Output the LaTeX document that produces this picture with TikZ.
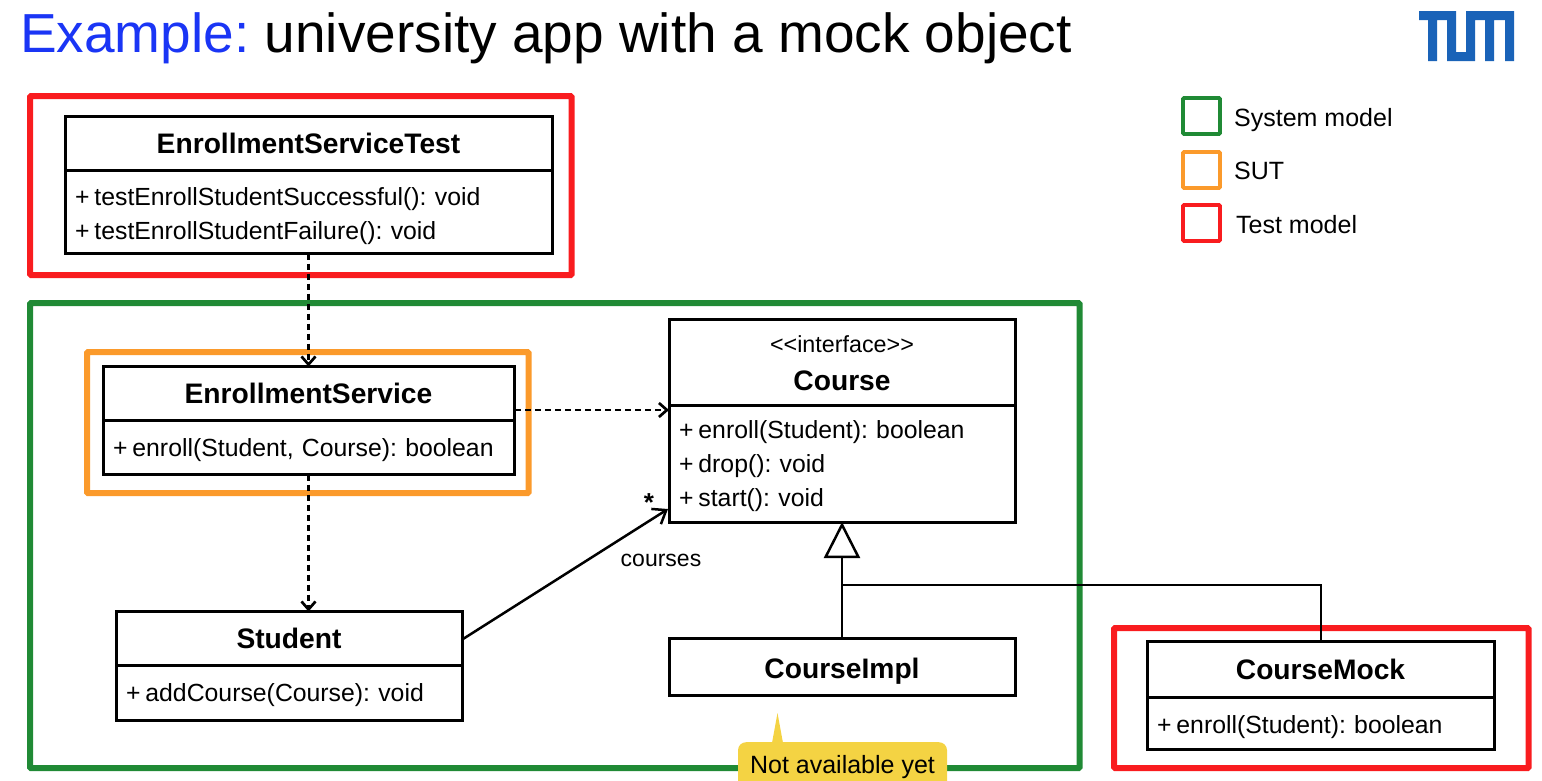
\documentclass[tikz,border=0pt]{standalone}
\usepackage{fontspec}
\setmainfont{Liberation Sans}
\usetikzlibrary{arrows.meta}
\definecolor{tumblue}{HTML}{1A63B8}
\definecolor{titleblue}{HTML}{1A35F5}
\definecolor{framered}{HTML}{F91C1F}
\definecolor{framegreen}{HTML}{208A35}
\definecolor{frameorange}{HTML}{FB9A2B}
\definecolor{noteyellow}{HTML}{F4D343}
\newcommand{\vis}{+\hspace{0.2em}}
\tikzset{
  umlhead/.style={draw,line width=3pt,fill=white,outer sep=0pt,inner sep=0pt,align=center,text depth=0pt,
    font=\fontsize{28.2}{36}\selectfont\bfseries},
  umlbody/.style={draw,line width=3pt,fill=white,outer sep=0pt,inner xsep=10pt,inner ysep=0pt,
    align=left,anchor=north,font=\fontsize{24.8}{34}\selectfont},
  frame/.style={draw=#1,line width=6pt,rounded corners=1pt},
  legendbox/.style={draw=#1,line width=3.6pt,rounded corners=1pt},
  legendtext/.style={anchor=west,inner sep=0pt,font=\fontsize{25}{28}\selectfont},
  dep/.style={line width=2.5pt,dash pattern=on 6pt off 4pt,-{Straight Barb[length=8pt,width=14pt,line width=2.7pt]}},
  assoc/.style={line width=2.5pt,-{Straight Barb[length=12pt,width=18pt,line width=2.5pt]}},
}
\begin{document}
\frenchspacing
\begin{tikzpicture}[x=1pt,y=-1pt,line join=miter]
  \clip (0,0) rectangle (1542,780);
  % title
  \node (title) [anchor=base west,inner sep=0pt,font=\fontsize{55}{60}\selectfont] at (20,52)
    {\textcolor{titleblue}{Example:} university app with a mock object};
  % logo
  \fill[tumblue] (1419,11) -- (1456,11) -- (1456,52) -- (1466,52) -- (1466,11) -- (1514,11) -- (1514,61)
    -- (1505,61) -- (1505,20) -- (1494,20) -- (1494,61) -- (1485,61) -- (1485,20) -- (1475,20) -- (1475,61)
    -- (1447,61) -- (1447,20) -- (1437,20) -- (1437,61) -- (1428,61) -- (1428,20) -- (1419,20) -- cycle;
  % frames
  \draw[frame=framered] (30,96) rectangle (571.5,275);
  \draw[frame=framegreen] (30,303) rectangle (1079.5,768);
  \draw[frame=frameorange] (87,352) rectangle (528.5,493);
  \draw[frame=framered] (1114,628) rectangle (1528.5,768);
  % legend
  \draw[legendbox=framegreen] (1183,98) rectangle (1220,134);
  \node (legendSystem) [legendtext] at (1234,120) {System model};
  \draw[legendbox=frameorange] (1183,152) rectangle (1220,188);
  \node (legendSut) [legendtext] at (1234,171) {SUT};
  \draw[legendbox=framered] (1183,205) rectangle (1220,241);
  \node (legendTest) [legendtext] at (1236,225) {Test model};
  % classes
  \node (testHead) [umlhead,minimum width=487,minimum height=54] at (308.5,143.5) {EnrollmentServiceTest};
  \node (testBody) [umlbody,text width=467,minimum height=83,text depth=31pt] at (testHead.south)
    {\vis testEnrollStudentSuccessful(): void\\\vis testEnrollStudentFailure(): void};
  \node (serviceHead) [umlhead,minimum width=411,minimum height=54] at (308.5,393.5) {EnrollmentService};
  \node (serviceBody) [umlbody,text width=391,minimum height=54,text depth=0pt] at (serviceHead.south)
    {\vis enroll(Student, Course): boolean};
  \node (studentHead) [umlhead,minimum width=346,minimum height=54] at (289,638.5) {Student};
  \node (studentBody) [umlbody,text width=326,minimum height=55,text depth=0pt] at (studentHead.south)
    {\vis addCourse(Course): void};
  \node (courseHead) [umlhead,minimum width=346,minimum height=86,text height=57pt] at (842,362)
    {{\fontsize{23.3}{36}\selectfont\mdseries {<}{<}interface{>}{>}}\\[2pt]Course};
  \node (courseBody) [umlbody,text width=326,minimum height=117,text depth=68pt] at (courseHead.south)
    {\vis enroll(Student): boolean\\\vis drop(): void\\\vis start(): void};
  \node (implHead) [umlhead,minimum width=346,minimum height=57,text height=24pt] at (842,666.5) {CourseImpl};
  \node (mockHead) [umlhead,minimum width=347,minimum height=56] at (1320.5,669) {CourseMock};
  \node (mockBody) [umlbody,text width=327,minimum height=52,text depth=0pt,text height=21pt] at (mockHead.south)
    {\vis enroll(Student): boolean};
  % connectors
  \draw[dep] (testBody.south) -- (serviceHead.north);
  \draw[dep] (serviceBody.south) -- (serviceBody.south |- studentHead.north);
  \coordinate (useStart) at (515,410);
  \draw[dep] (useStart) -- (useStart -| courseHead.west);
  \coordinate (assocStart) at (463,639);
  \coordinate (assocEnd) at (668,509);
  \draw[assoc] (assocStart) -- (assocEnd);
  \node (star) [inner sep=0pt,font=\fontsize{26}{28}\selectfont\bfseries] at (649,503) {*};
  \node (assocLabel) [inner sep=0pt,font=\fontsize{23}{26}\selectfont] at (661,560.5) {courses};
  \draw[line width=2.5pt,-{Triangle[open,fill=white,length=36pt,width=36pt,line width=2.5pt]}]
    (implHead.north) -- (courseBody.south);
  \coordinate (bend) at (843,585);
  \draw[line width=2pt] (mockHead.north) |- (bend);
  % note
  \node (note) [anchor=north,fill=noteyellow,rounded corners=8pt,minimum width=209,minimum height=60,
    inner sep=0pt] at (842.5,742) {};
  \node (noteText) [inner sep=0pt,font=\fontsize{25}{28}\selectfont] at (842.5,767.5) {Not available yet};
  \coordinate (noteTip) at (777.5,713);
  \fill[noteyellow] (772,743) -- (noteTip) -- (783,743) -- cycle;
\end{tikzpicture}
\end{document}
